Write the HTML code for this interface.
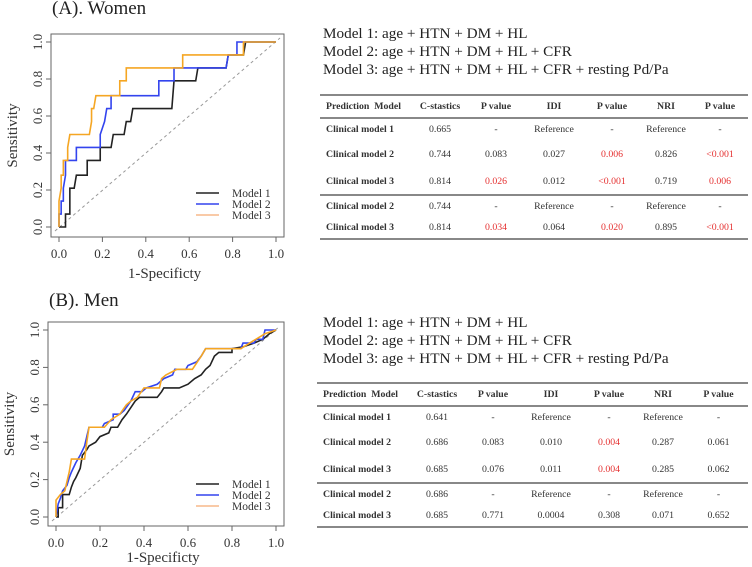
<!DOCTYPE html>
<html><head><meta charset="utf-8"><style>
body{margin:0;width:752px;height:567px;background:#fff;position:relative;overflow:hidden;font-family:"Liberation Serif",serif;color:#222}
.abs{position:absolute}
.title{font-size:19px;white-space:nowrap}
.mdl{font-size:15.2px;line-height:18px;white-space:nowrap;left:323px}
table{position:absolute;border-collapse:collapse;font-size:9.8px;color:#333}
td{text-align:center;padding:0;white-space:nowrap}
td:first-child{text-align:left;font-weight:bold;padding-left:6px}
tr.h td{font-weight:bold;border-top:2px solid #888;border-bottom:2px solid #888}
tr.sep td{border-top:2px solid #888}
tr.last td{border-bottom:2px solid #888}
.r{color:#e53030}
</style></head><body>
<div class="abs title" style="left:52px;top:-2px">(A). Women</div>
<div class="abs title" style="left:49px;top:290px">(B). Men</div>

<div class="abs mdl" style="top:25px">Model 1: age + HTN + DM + HL<br>Model 2: age + HTN + DM + HL + CFR<br>Model 3: age + HTN + DM + HL + CFR + resting Pd/Pa</div>
<div class="abs mdl" style="top:314px">Model 1: age + HTN + DM + HL<br>Model 2: age + HTN + DM + HL + CFR<br>Model 3: age + HTN + DM + HL + CFR + resting Pd/Pa</div>

<table style="left:320px;top:94px;width:428px">
<colgroup><col style="width:92px"><col style="width:56px"><col style="width:56px"><col style="width:60px"><col style="width:56px"><col style="width:52px"><col></colgroup>
<tr class="h" style="height:23px"><td>Prediction&nbsp; Model</td><td>C-stastics</td><td>P value</td><td>IDI</td><td>P value</td><td>NRI</td><td>P value</td></tr>
<tr style="height:22px"><td>Clinical model 1</td><td>0.665</td><td>-</td><td>Reference</td><td>-</td><td>Reference</td><td>-</td></tr>
<tr style="height:28px"><td>Clinical model 2</td><td>0.744</td><td>0.083</td><td>0.027</td><td class="r">0.006</td><td>0.826</td><td class="r">&lt;0.001</td></tr>
<tr style="height:27px"><td>Clinical model 3</td><td>0.814</td><td class="r">0.026</td><td>0.012</td><td class="r">&lt;0.001</td><td>0.719</td><td class="r">0.006</td></tr>
<tr class="sep" style="height:22px"><td>Clinical model 2</td><td>0.744</td><td>-</td><td>Reference</td><td>-</td><td>Reference</td><td>-</td></tr>
<tr class="last" style="height:22px"><td>Clinical model 3</td><td>0.814</td><td class="r">0.034</td><td>0.064</td><td class="r">0.020</td><td>0.895</td><td class="r">&lt;0.001</td></tr>
</table>

<table style="left:317px;top:382px;width:431px">
<colgroup><col style="width:92px"><col style="width:56px"><col style="width:56px"><col style="width:60px"><col style="width:56px"><col style="width:52px"><col></colgroup>
<tr class="h" style="height:23px"><td>Prediction&nbsp; Model</td><td>C-stastics</td><td>P value</td><td>IDI</td><td>P value</td><td>NRI</td><td>P value</td></tr>
<tr style="height:22px"><td>Clinical model 1</td><td>0.641</td><td>-</td><td>Reference</td><td>-</td><td>Reference</td><td>-</td></tr>
<tr style="height:28px"><td>Clinical model 2</td><td>0.686</td><td>0.083</td><td>0.010</td><td class="r">0.004</td><td>0.287</td><td>0.061</td></tr>
<tr style="height:27px"><td>Clinical model 3</td><td>0.685</td><td>0.076</td><td>0.011</td><td class="r">0.004</td><td>0.285</td><td>0.062</td></tr>
<tr class="sep" style="height:22px"><td>Clinical model 2</td><td>0.686</td><td>-</td><td>Reference</td><td>-</td><td>Reference</td><td>-</td></tr>
<tr class="last" style="height:22px"><td>Clinical model 3</td><td>0.685</td><td>0.771</td><td>0.0004</td><td>0.308</td><td>0.071</td><td>0.652</td></tr>
</table>

<svg id="chart" class="abs" style="left:0;top:0" width="752" height="567"></svg>
<script>
const tickLabels=["0.0","0.2","0.4","0.6","0.8","1.0"];
const tickValues=[0,0.2,0.4,0.6,0.8,1.0];
const seriesNames=["Model 1","Model 2","Model 3"];
const seriesColors=["#222","#3344ee","#f5a623"];
const womenM1X=[0,0.03,0.03,0.05,0.05,0.07,0.08,0.13,0.13,0.19,0.19,0.24,0.25,0.30,0.31,0.33,0.34,0.52,0.53,0.63,0.64,0.77,0.78,0.85,0.86,1];
const womenM1Y=[0,0,0.07,0.07,0.21,0.21,0.28,0.28,0.36,0.36,0.43,0.43,0.5,0.5,0.57,0.57,0.64,0.64,0.79,0.79,0.86,0.86,0.93,0.93,1,1];
const womenM2X=[0,0,0.01,0.01,0.02,0.02,0.03,0.03,0.08,0.08,0.19,0.19,0.21,0.22,0.24,0.24,0.46,0.46,0.53,0.53,0.77,0.78,0.82,0.82,1];
const womenM2Y=[0,0.07,0.07,0.14,0.14,0.21,0.28,0.36,0.36,0.43,0.43,0.5,0.57,0.64,0.64,0.71,0.71,0.79,0.79,0.86,0.86,0.93,0.93,1,1];
const womenM3X=[0,0,0.01,0.01,0.02,0.02,0.04,0.04,0.05,0.14,0.15,0.15,0.16,0.17,0.28,0.28,0.31,0.31,0.57,0.57,0.85,0.85,1];
const womenM3Y=[0,0.14,0.21,0.28,0.28,0.36,0.36,0.43,0.5,0.5,0.57,0.64,0.64,0.71,0.71,0.79,0.79,0.86,0.86,0.93,0.93,1,1];
const menM1X=[0,0.01,0.01,0.03,0.03,0.06,0.07,0.08,0.09,0.11,0.12,0.14,0.15,0.18,0.20,0.24,0.25,0.28,0.30,0.32,0.36,0.38,0.46,0.48,0.49,0.56,0.60,0.63,0.66,0.68,0.70,0.72,0.74,0.80,0.80,0.85,0.90,0.94,0.97,1];
const menM1Y=[0,0,0.05,0.05,0.12,0.12,0.16,0.19,0.21,0.26,0.33,0.36,0.38,0.40,0.43,0.45,0.48,0.48,0.52,0.55,0.62,0.64,0.64,0.67,0.69,0.69,0.71,0.74,0.76,0.79,0.81,0.86,0.88,0.88,0.90,0.91,0.93,0.95,0.98,1];
const menM2X=[0,0.01,0.02,0.03,0.05,0.06,0.07,0.09,0.11,0.13,0.14,0.15,0.21,0.22,0.26,0.26,0.29,0.31,0.34,0.36,0.39,0.41,0.46,0.49,0.53,0.54,0.59,0.60,0.64,0.66,0.67,0.68,0.84,0.85,0.90,0.91,0.94,0.95,1];
const menM2Y=[0,0.07,0.10,0.14,0.17,0.21,0.24,0.29,0.33,0.38,0.43,0.48,0.48,0.50,0.52,0.55,0.55,0.57,0.62,0.67,0.67,0.69,0.71,0.74,0.76,0.79,0.79,0.81,0.83,0.86,0.88,0.90,0.90,0.93,0.93,0.95,0.95,1,1];
const menM3X=[0,0,0.02,0.04,0.05,0.06,0.07,0.13,0.14,0.15,0.22,0.25,0.29,0.32,0.34,0.37,0.40,0.47,0.48,0.50,0.55,0.62,0.66,0.68,0.84,0.88,0.95,1];
const menM3Y=[0,0.09,0.12,0.14,0.19,0.24,0.31,0.31,0.40,0.48,0.48,0.52,0.55,0.60,0.62,0.64,0.69,0.69,0.74,0.76,0.79,0.79,0.86,0.90,0.90,0.93,0.98,1];

const svg=document.getElementById('chart');
const NS='http://www.w3.org/2000/svg';
function mk(tag,attrs,parent){const e=document.createElementNS(NS,tag);for(const k in attrs)e.setAttribute(k,attrs[k]);(parent||svg).appendChild(e);return e;}

function drawPlot(name,box,x0,x1,y0,y1,series,legY,xtOff){
  const sx=v=>x0+(x1-x0)*v, sy=v=>y0-(y0-y1)*v;
  const g=mk('g',{});
  
  
  const frame=mk('rect',{x:box[0],y:box[1],width:box[2]-box[0],height:box[3]-box[1],fill:'none',stroke:'#666','stroke-width':1},g);
  
  
  const diag=mk('line',{x1:sx(0)-4,y1:sy(0)+4,x2:sx(1)+4,y2:sy(1)-4,stroke:'#999','stroke-dasharray':'3,3','stroke-width':1},g);
  
  
  tickValues.forEach((v,i)=>{
    mk('line',{x1:sx(v),y1:box[3],x2:sx(v),y2:box[3]+5,stroke:'#666'},g);
    const t=mk('text',{x:sx(v),y:box[3]+21,'text-anchor':'middle','font-size':13,'font-family':'Liberation Serif',fill:'#333'},g);
    t.textContent=tickLabels[i];
    
    
    mk('line',{x1:box[0],y1:sy(v),x2:box[0]-5,y2:sy(v),stroke:'#666'},g);
    const ty=mk('text',{x:0,y:0,'text-anchor':'middle','font-size':13,'font-family':'Liberation Serif',fill:'#333',transform:`translate(${box[0]-9},${sy(v)}) rotate(-90)`},g);
    ty.textContent=tickLabels[i];
    
    
  });
  const xl=mk('text',{x:(box[0]+box[2])/2-3,y:box[3]+xtOff,'text-anchor':'middle','font-size':15,'font-family':'Liberation Serif',fill:'#333'},g);
  xl.textContent='1-Specificty';
  
  
  const yl=mk('text',{x:0,y:0,'text-anchor':'middle','font-size':15,'font-family':'Liberation Serif',fill:'#333',transform:`translate(${box[0]-34},${(box[1]+box[3])/2}) rotate(-90)`},g);
  yl.textContent='Sensitivity';
  
  
  series.forEach((s,i)=>{
    const pts=s[0].map((x,j)=>sx(x)+','+sy(s[1][j])).join(' ');
    const pl=mk('polyline',{points:pts,fill:'none',stroke:seriesColors[i],'stroke-width':1.6},g);
    
    
  });
  seriesNames.forEach((n,i)=>{
    const y=legY+i*11;
    const ll=mk('line',{x1:196,y1:y,x2:219,y2:y,stroke:i==2?'#f7b98a':seriesColors[i],'stroke-width':1.6},g);
    
    
    const lt=mk('text',{x:232,y:y+4,'font-size':11.5,'font-family':'Liberation Serif',fill:'#333'},g);
    lt.textContent=n;
    
    
  });
}
drawPlot('women',[51,34,284,237],59,276,227,42,[[womenM1X,womenM1Y],[womenM2X,womenM2Y],[womenM3X,womenM3Y]],193,41);
drawPlot('men',[48,322,284,526],56,276,517,330,[[menM1X,menM1Y],[menM2X,menM2Y],[menM3X,menM3Y]],484,36);
</script>
</body></html>
